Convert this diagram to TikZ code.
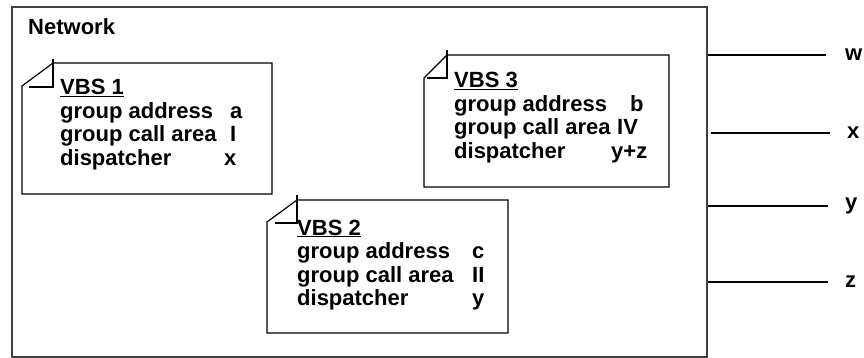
\documentclass[tikz,border=0pt]{standalone}
\usepackage{fontspec}
\setmainfont{Liberation Sans}
\usepackage{tikz}
\usetikzlibrary{positioning}
\tikzstyle{netbox} = [draw=black!75, line width=1.6pt, fill=none, minimum width=695pt, minimum height=350pt, inner sep=0pt]
\tikzstyle{textonly} = [draw=none, fill=none, inner sep=0pt, anchor=base west, font=\bfseries\fontsize{22}{23.5}\selectfont]
\tikzstyle{note} = [draw, line width=1.2pt, line join=miter]
\tikzstyle{fold} = [draw, line width=1.2pt]
\tikzstyle{tedge} = [draw, line width=2.6pt]

\begin{document}
\begin{tikzpicture}[x=1pt, y=-1pt]
\useasboundingbox (0,0) rectangle (864,358);
%image
\node[netbox] (net) at (359.5,182) {};
\node[textonly] (netname) at (28,35) {Network};

% VBS 1
\path[note] (22,194) -- (22,86) -- (53,63) -- (272,63) -- (272,194) -- cycle;
\path[fold] (53,59) -- (53,87) -- (29,87);
\node[textonly] (v1head) at (60,95) {\underline{VBS 1}};
\node[textonly, below = 23.5pt of v1head.base west, anchor=base west] (v1addr) {\makebox[170pt][l]{group address}a};
\node[textonly, below = 23.5pt of v1addr.base west, anchor=base west] (v1area) {\makebox[170pt][l]{group call area}I};
\node[textonly, below = 23.5pt of v1area.base west, anchor=base west] (v1disp) {\makebox[164pt][l]{dispatcher}x};

% VBS 3
\path[note] (424,187) -- (424,78) -- (447,55) -- (669,55) -- (669,187) -- cycle;
\path[fold] (447,50) -- (447,78) -- (427,78);
\node[textonly] (v3head) at (454,88) {\underline{VBS 3}};
\node[textonly, below = 23.5pt of v3head.base west, anchor=base west] (v3addr) {\makebox[176pt][l]{group address}b};
\node[textonly, below = 23.5pt of v3addr.base west, anchor=base west] (v3area) {\makebox[163pt][l]{group call area}IV};
\node[textonly, below = 23.5pt of v3area.base west, anchor=base west] (v3disp) {\makebox[157pt][l]{dispatcher}y+z};

% VBS 2
\path[note] (267,333) -- (267,222) -- (297,200) -- (508,200) -- (508,333) -- cycle;
\path[fold] (297,195) -- (297,223) -- (275,223);
\node[textonly] (v2head) at (297,235) {\underline{VBS 2}};
\node[textonly, below = 23.5pt of v2head.base west, anchor=base west] (v2addr) {\makebox[175pt][l]{group address}c};
\node[textonly, below = 23.5pt of v2addr.base west, anchor=base west] (v2area) {\makebox[175pt][l]{group call area}II};
\node[textonly, below = 23.5pt of v2area.base west, anchor=base west] (v2disp) {\makebox[175pt][l]{dispatcher}y};

% dispatchers
\node[textonly, anchor=west] (w) at (845,55) {w};
\node[textonly, anchor=west] (x) at (847,133) {x};
\node[textonly, anchor=west] (y) at (845,206) {y};
\node[textonly, anchor=west] (z) at (845,282) {z};

%paths
\path[tedge] (w.west -| net.east) -- ([xshift=-19pt]w.west);
\path[tedge] ([xshift=3pt]x.west -| net.east) -- ([xshift=-17pt]x.west);
\path[tedge] (y.west -| net.east) -- ([xshift=-17pt]y.west);
\path[tedge] (z.west -| net.east) -- ([xshift=-17pt]z.west);

\end{tikzpicture}
\end{document}
